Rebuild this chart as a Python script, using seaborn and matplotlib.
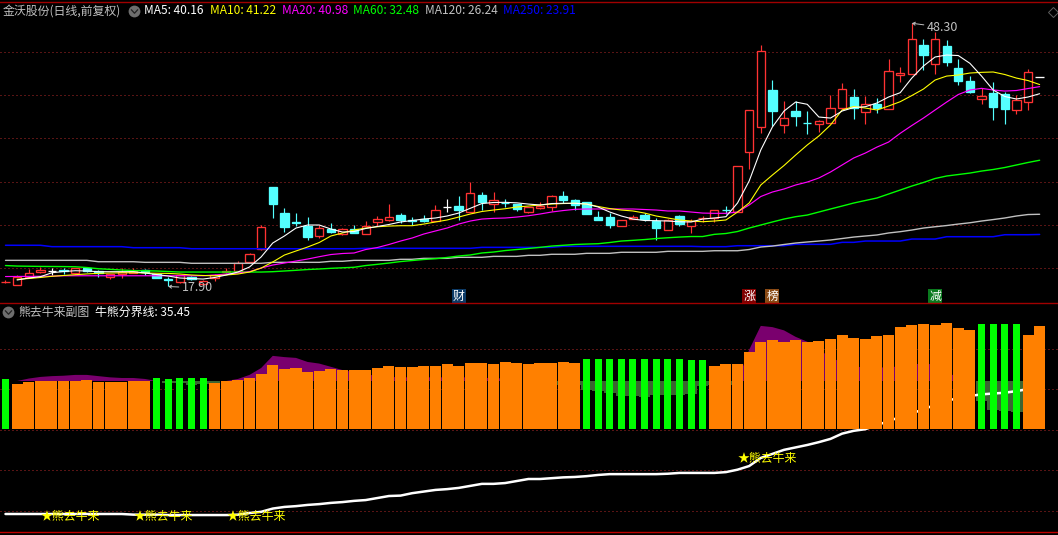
import numpy as np
import pandas as pd
import matplotlib
matplotlib.use("Agg")
import matplotlib.pyplot as plt
import seaborn as sns

W, H = 1058, 535

opens = [18.40,18.07,18.96,19.57,19.69,19.75,19.49,20.07,19.72,18.96,
19.34,19.42,19.80,19.34,18.78,18.45,19.03,18.22,18.84,19.57,
19.72,20.76,22.19,29.39,26.35,25.35,24.88,23.76,24.50,23.92,
24.50,23.99,25.35,25.61,26.15,25.55,25.66,25.50,27.04,27.19,
26.54,28.46,27.39,27.55,27.42,26.54,26.96,27.11,28.35,27.89,
27.66,25.92,25.92,24.92,25.69,26.15,25.46,24.42,26.04,24.92,
25.78,25.84,26.72,26.47,33.46,36.35,40.59,36.58,38.16,36.77,
36.70,36.81,38.54,39.78,38.08,39.01,38.43,42.32,42.47,45.78,
43.55,45.67,43.13,41.63,39.58,40.24,40.13,38.31,39.17,42.05]
closes = [18.45,19.00,19.49,19.80,19.69,19.65,20.00,19.72,19.42,19.34,
19.61,19.72,19.57,18.91,18.70,19.19,18.73,18.57,19.23,19.69,
20.65,21.62,24.73,27.42,24.77,25.27,23.61,24.62,24.19,24.50,
24.11,24.88,25.66,25.89,25.58,25.47,25.43,26.70,27.04,26.73,
28.66,27.69,27.85,27.50,26.88,27.04,27.23,28.31,27.89,27.27,
26.27,25.58,25.00,25.54,25.92,25.69,24.65,25.61,25.12,25.50,
25.85,26.70,26.68,31.78,38.24,45.06,38.16,37.32,37.59,36.73,
36.97,38.47,40.67,38.47,39.01,38.51,42.75,42.55,46.44,44.63,
46.44,43.82,41.63,40.36,39.86,38.62,38.39,39.47,42.63,42.05]
highs = [18.60,19.23,19.88,20.11,20.03,20.00,20.00,20.10,19.75,19.34,
20.03,20.00,19.95,19.40,19.03,19.20,19.10,18.60,19.30,20.00,
20.84,21.75,25.00,29.39,26.93,26.35,25.89,25.00,25.20,24.60,
25.00,25.46,26.04,27.42,26.38,25.96,26.15,27.31,27.97,28.35,
29.97,28.81,28.81,27.97,27.45,27.10,27.66,28.46,28.92,27.95,
27.70,26.62,26.42,25.60,26.15,26.35,25.77,25.70,26.15,25.69,
26.04,26.75,27.19,31.80,38.30,45.78,41.74,39.32,39.32,38.16,
37.12,40.01,41.36,40.70,39.89,39.70,44.13,43.28,48.30,46.48,
47.32,46.36,44.13,42.20,40.78,41.51,40.39,40.01,43.01,42.05]
lows = [18.30,18.07,18.96,19.42,19.23,19.34,19.34,19.60,19.03,18.76,
18.91,19.42,19.23,18.85,17.90,18.27,18.70,18.07,18.57,19.50,
19.60,20.70,22.10,25.84,24.22,24.88,23.27,23.53,24.04,23.90,
24.10,23.95,24.88,25.50,25.23,25.00,25.38,25.45,26.50,25.58,
26.50,26.73,26.54,27.11,26.62,26.38,26.90,26.62,27.50,26.73,
26.25,25.55,24.65,24.90,25.65,25.50,23.27,24.40,24.88,24.11,
25.38,25.38,26.27,26.45,31.47,35.66,36.43,35.66,36.43,35.51,
35.70,36.80,38.39,37.24,36.66,37.97,38.40,41.55,42.45,42.90,
42.44,43.39,41.17,40.30,38.97,37.12,36.66,37.82,38.28,42.05]

ma5 = [np.nan,18.65,18.88,19.03,19.49,19.63,19.72,19.69,19.61,19.61,
19.61,19.61,19.46,19.28,19.11,18.88,18.82,18.76,18.94,19.23,
19.57,20.15,21.31,22.92,23.73,24.65,25.00,25.00,24.54,24.19,
24.25,24.60,24.83,25.06,25.35,25.52,25.69,25.81,26.04,26.38,
26.93,27.48,27.60,27.62,27.56,27.42,27.31,27.48,27.51,27.51,
27.42,27.08,26.50,26.04,25.69,25.52,25.50,25.46,25.38,25.35,
25.69,25.81,25.96,27.54,30.08,33.66,36.32,38.16,39.20,38.94,
37.47,37.35,38.16,38.57,38.66,39.09,39.78,40.28,41.97,43.36,
44.40,44.63,44.57,43.67,42.20,40.59,39.84,39.55,39.78,40.16]
ma10 = [np.nan,18.73,18.82,18.94,19.08,19.17,19.26,19.35,19.42,19.46,
19.48,19.49,19.46,19.43,19.41,19.34,19.23,19.17,19.14,19.23,
19.34,19.57,20.03,20.73,21.53,22.00,22.46,22.98,23.73,24.08,
24.42,24.65,24.80,24.88,24.92,24.92,25.11,25.35,25.58,25.92,
26.27,26.56,26.73,26.88,27.08,27.19,27.31,27.42,27.48,27.51,
27.42,27.14,26.90,26.73,26.62,26.38,26.04,25.81,25.58,25.46,
25.38,25.46,25.58,26.50,27.54,29.62,30.77,31.87,33.08,34.24,
35.28,36.55,38.28,38.68,38.51,38.28,38.74,39.24,39.95,40.70,
41.74,42.20,42.32,42.55,42.63,42.67,42.38,41.97,41.68,41.22]
ma20 = [19.05,19.06,19.07,19.08,19.09,19.14,19.14,19.14,19.14,19.14,
19.14,19.14,19.14,19.14,19.14,19.14,19.14,19.14,19.23,19.34,
19.46,19.61,20.03,20.38,20.61,20.84,21.07,21.34,21.59,21.71,
21.77,22.17,22.40,22.75,23.15,23.50,23.96,24.31,24.65,25.11,
25.46,25.69,25.77,25.81,25.92,26.07,26.27,26.50,26.67,26.81,
26.85,26.85,26.85,26.85,26.85,26.79,26.73,26.62,26.62,26.50,
26.38,26.35,26.35,26.50,27.31,28.29,28.81,29.16,29.62,29.96,
30.43,31.12,31.93,32.74,33.31,34.00,34.58,35.59,36.49,37.35,
38.28,39.20,40.07,40.59,40.78,40.59,40.47,40.53,40.76,40.98]
ma60 = [20.32,20.26,20.24,20.22,20.21,20.20,20.18,20.09,19.95,19.88,
19.80,19.74,19.72,19.69,19.63,19.57,19.57,19.57,19.57,19.57,
19.57,19.57,19.57,19.61,19.69,19.77,19.86,19.92,20.00,20.06,
20.12,20.32,20.46,20.61,20.78,20.90,21.02,21.11,21.25,21.42,
21.54,21.77,21.88,22.05,22.17,22.29,22.42,22.57,22.66,22.75,
22.80,22.84,22.98,23.15,23.23,23.32,23.44,23.53,23.61,23.67,
23.67,23.92,24.02,24.25,24.65,25.00,25.35,25.69,25.96,26.15,
26.50,26.85,27.19,27.54,27.83,28.12,28.58,29.04,29.50,29.91,
30.37,30.66,30.83,31.00,31.23,31.41,31.64,31.93,32.22,32.48]
ma120 = [20.92,20.92,20.92,20.92,20.92,20.92,20.92,20.92,20.76,20.76,
20.76,20.76,20.69,20.69,20.69,20.69,20.58,20.58,20.58,20.58,
20.58,20.58,20.58,20.69,20.69,20.69,20.69,20.69,20.81,20.81,
20.92,20.92,20.92,20.92,21.04,21.04,21.15,21.15,21.15,21.27,
21.27,21.27,21.38,21.38,21.38,21.50,21.50,21.62,21.62,21.62,
21.73,21.73,21.73,21.85,21.85,21.85,21.85,21.96,21.96,21.96,
21.96,22.03,22.03,22.03,22.17,22.46,22.57,22.75,22.92,23.04,
23.15,23.27,23.44,23.61,23.73,23.85,24.08,24.23,24.42,24.65,
24.80,24.94,25.11,25.26,25.46,25.63,25.81,26.04,26.21,26.24]
ma250 = [22.66,22.66,22.66,22.66,22.50,22.50,22.50,22.50,22.50,22.50,
22.50,22.38,22.38,22.38,22.38,22.38,22.26,22.26,22.26,22.26,
22.26,22.26,22.26,22.26,22.26,22.26,22.26,22.26,22.26,22.26,
22.26,22.31,22.31,22.31,22.31,22.31,22.31,22.31,22.31,22.31,
22.31,22.42,22.42,22.42,22.42,22.42,22.42,22.42,22.54,22.54,
22.54,22.54,22.54,22.54,22.54,22.54,22.54,22.54,22.54,22.54,
22.50,22.50,22.50,22.61,22.61,22.61,22.61,22.61,22.77,22.77,
22.77,22.77,23.00,23.00,23.15,23.15,23.15,23.15,23.38,23.38,
23.38,23.65,23.65,23.65,23.65,23.65,23.88,23.88,23.88,23.91]

bar_tops = [36.30,35.68,35.93,36.05,36.05,36.05,36.05,36.17,35.93,35.93,
35.93,36.05,36.05,36.42,36.30,36.42,36.42,36.42,35.80,36.05,
36.17,36.42,36.91,38.02,37.53,37.65,37.16,37.28,37.53,37.41,
37.41,37.41,37.65,37.90,37.78,37.78,37.90,37.90,38.15,37.90,
38.27,38.27,38.15,38.40,38.27,38.15,38.27,38.27,38.40,38.27,
38.77,38.77,38.77,38.77,38.77,38.77,38.77,38.77,38.77,38.64,
38.64,37.90,38.15,38.15,39.63,40.86,41.11,40.86,41.11,40.86,
40.99,41.23,41.73,41.36,41.23,41.60,41.73,42.72,42.96,43.09,
42.96,43.21,42.59,42.35,43.09,43.09,43.09,43.09,41.73,42.84]
bear_bars = [0,13,14,15,16,17,50,51,52,53,54,55,56,57,58,59,60,84,85,86,87]
bar_floor = 30.12

divider = [19.63,19.63,19.63,19.63,19.63,19.63,19.63,19.63,19.63,19.63,
19.63,19.55,19.55,19.55,19.50,19.50,19.50,19.50,19.50,19.50,
19.55,19.75,19.90,20.30,20.50,20.60,20.75,20.85,21.00,21.10,
21.25,21.35,21.60,21.85,21.90,22.20,22.40,22.60,22.70,22.85,
23.10,23.35,23.35,23.45,23.70,23.95,23.95,24.05,24.15,24.20,
24.30,24.45,24.55,24.55,24.55,24.55,24.55,24.60,24.70,24.70,
24.70,24.70,24.80,25.10,25.55,26.55,27.05,27.55,27.85,28.15,
28.50,28.90,29.55,29.90,30.10,30.60,31.10,31.60,32.05,32.55,
33.10,33.60,33.95,34.20,34.40,34.50,34.60,34.80,35.05,35.45]

band = [36.05,36.05,36.35,36.55,36.65,36.70,36.80,36.80,36.65,36.50,
36.42,36.42,36.30,36.05,35.85,35.75,35.60,35.70,35.80,36.05,
36.30,36.80,37.65,39.15,39.00,38.90,38.40,38.20,37.80,37.40,
37.15,36.90,36.65,36.55,36.50,36.50,36.50,36.50,36.50,36.50,
36.50,36.45,36.40,36.35,36.30,35.60,35.45,35.50,35.60,35.50,
34.90,34.80,34.60,34.20,34.20,34.05,34.30,34.30,34.30,34.45,
35.40,35.50,35.60,36.05,39.90,42.85,42.70,42.30,41.50,40.90,
40.00,38.90,38.40,37.90,37.65,37.65,37.80,37.80,38.00,38.30,
38.00,37.20,36.40,36.05,33.55,32.50,32.40,32.20,32.20,36.05]
band_base = 36.05

signal_bars = [3, 11, 19, 63]
signal_levels = [19.26, 19.26, 19.26, 26.42]
tags = ["财", "涨", "榜", "减"]
tag_bars = [39, 64, 66, 80]
tag_colors = ["#0c3a66", "#800000", "#8a4a14", "#0a7a1e"]
main_grid = [20, 25, 30, 35, 40, 45]
sub_grid = [20, 25, 30, 35, 40]
ma_names = ["MA5: 40.16", "MA10: 41.22", "MA20: 40.98", "MA60: 32.48", "MA120: 26.24", "MA250: 23.91"]
ma_colors = ["#ffffff", "#ffff00", "#ff00ff", "#00ff00", "#c0c0c0", "#0000ff"]
ma_widths = [0.8, 0.8, 0.85, 1.0, 1.0, 1.1]

RED, CYAN, ORANGE, GREEN = "#ff3232", "#54ffff", "#ff8000", "#00ff00"
DOTS = (0, (1, 3))
THIN = 0.72

sns.set_theme(style="dark", rc={"axes.facecolor": "black", "figure.facecolor": "black",
                                "savefig.facecolor": "black", "axes.grid": False})
plt.rcParams["font.family"] = ["Noto Sans CJK SC", "DejaVu Sans"]

fig = plt.figure(figsize=(W / 100, H / 100), dpi=100)
top_px, mid_px, bot_px = 1.5, 303.3, 532.3
ax = fig.add_axes([0, 1 - mid_px / H, 1, (mid_px - top_px) / H])
bx = fig.add_axes([0, 1 - bot_px / H, 1, (bot_px - mid_px) / H])

idx = np.arange(len(opens))
o, h, l, c = map(np.array, (opens, highs, lows, closes))
cols = [RED if b > a else CYAN if b < a else "#ffffff" for a, b in zip(o, c)]

# price panel
for g in main_grid:
    ax.axhline(g, color="#b02828", lw=THIN, ls=DOTS, zorder=0.5)
ax.vlines(idx, l, h, colors=cols, lw=0.85, zorder=2)
for i in idx:
    face = "black" if cols[i] == RED else cols[i]
    ax.bar(i, abs(c[i] - o[i]), bottom=min(o[i], c[i]), width=0.72, facecolor=face,
           edgecolor=cols[i], lw=0.95, zorder=3)
all_ma = [ma5, ma10, ma20, ma60, ma120, ma250]
for vals, col, wid in list(zip(all_ma, ma_colors, ma_widths))[::-1]:
    df = pd.DataFrame({"i": idx, "v": vals}).dropna()
    sns.lineplot(data=df, x="i", y="v", color=col, linewidth=wid, ax=ax, errorbar=None, zorder=4)

arrow = dict(arrowstyle="->,head_length=0.2,head_width=0.12", color="#c0c0c0", lw=0.7, shrinkA=0, shrinkB=0)
ax.annotate("48.30", xy=(idx[np.argmax(h)], max(h)), xytext=(11, -3), textcoords="offset points",
            color="#c0c0c0", fontsize=9, va="center", zorder=6, arrowprops=arrow)
ax.annotate("17.90", xy=(idx[np.argmin(l)], min(l)), xytext=(10, -1), textcoords="offset points",
            color="#c0c0c0", fontsize=9, va="center", zorder=6, arrowprops=arrow)
for t, b, col in zip(tags, tag_bars, tag_colors):
    ax.text(b, 16.8, t, color="white", fontsize=8.6, ha="center", va="center", zorder=7,
            bbox=dict(boxstyle="square,pad=0.08", fc=col, ec="none"))

# sub panel
for g in sub_grid:
    bx.axhline(g, color="#b02828", lw=THIN, ls=DOTS, zorder=0.5)
band_a = np.array(band)
bx.fill_between(idx, band_base, band_a, where=band_a >= band_base, interpolate=True, color="#7a006e", lw=0, zorder=1)
bx.fill_between(idx, band_base, band_a, where=band_a <= band_base, step="mid", color="#3c6432", lw=0, zorder=1)
sns.lineplot(x=idx, y=divider, color="white", linewidth=1.8, ax=bx, errorbar=None, zorder=2)

tops = np.array(bar_tops)
is_bear = np.isin(idx, bear_bars)
for mask, col, wd in [(~is_bear, ORANGE, 0.95), (is_bear, GREEN, 0.6)]:
    sns.barplot(x=idx[mask], y=tops[mask] - bar_floor, color=col, saturation=1, width=wd, native_scale=True,
                bottom=bar_floor, ax=bx, errorbar=None, lw=0, zorder=3, antialiased=False)
for b, lv in zip(signal_bars, signal_levels):
    bx.text(b, lv, "★熊去牛来", color="#ffff00", fontsize=8.6, ha="left", va="center", zorder=6)

for a, (y0, y1) in [(ax, (15.96, 50.81)), (bx, (17.37, 45.64))]:
    a.set_xlim(-0.473, 90.58)
    a.set_ylim(y0, y1)
    a.set_xticks([])
    a.set_yticks([])
    a.set_xlabel("")
    a.set_ylabel("")
    for s in ("left", "right", "top", "bottom"):
        a.spines[s].set_visible(False)
    a.set_facecolor("black")
for a, s, col in [(ax, "top", "#a00000"), (bx, "top", "#a00000"), (bx, "bottom", "#c00000")]:
    a.spines[s].set_visible(True)
    a.spines[s].set_color(col)
    a.spines[s].set_linewidth(1.0)


def put(x, y, s, color, size=8.6):
    fig.text(x / W, 1 - y / H, s, color=color, fontsize=size, va="center", ha="left", zorder=10)


put(3, 11, "金沃股份(日线,前复权)", "#c0c0c0")
for s, col, x in zip(ma_names, ma_colors, [144, 210, 282, 353, 425, 503]):
    put(x, 11, s, col)
put(18, 312, "熊去牛来副图", "#c0c0c0")
put(95, 312, "牛熊分界线: 35.45", "#ffffff")

chev = [(-1, 0.6), (0, -0.5), (1, 0.6)]
for x, y in [(134, 11), (8, 312)]:
    fig.add_artist(plt.Line2D([x / W], [1 - y / H], marker="o", ms=8.5, mfc="#6e6e6e", mec="none", transform=fig.transFigure))
    fig.add_artist(plt.Line2D([x / W], [1 - y / H], marker=matplotlib.path.Path(chev), ms=5, mfc="none", mec="#222222",
                              mew=0.9, transform=fig.transFigure))
fig.add_artist(plt.Line2D([1053 / W], [1 - 12 / H], marker="D", ms=5, mfc="none", mec="#606060", mew=0.7,
                          transform=fig.transFigure))

fig.savefig("out.png", dpi=100, facecolor="black")
